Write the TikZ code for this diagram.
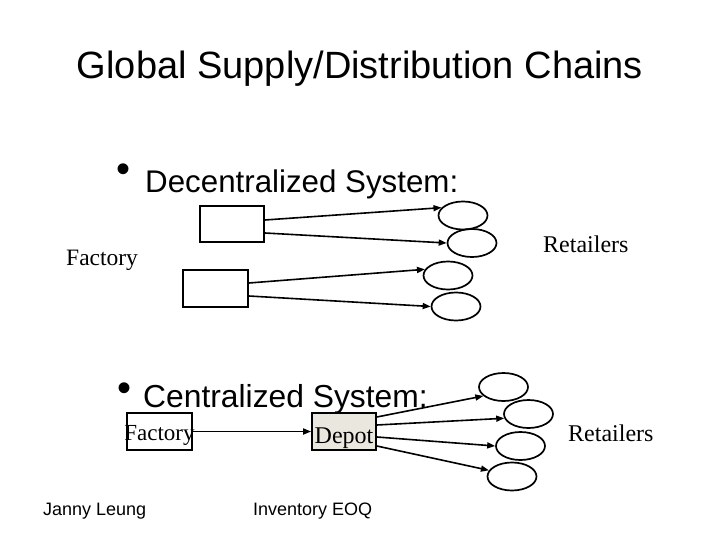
\documentclass[tikz,border=0pt]{standalone}
\usepackage{fontspec}
\setmainfont{Liberation Serif}
\setsansfont{Liberation Sans}
\usetikzlibrary{shapes.geometric,arrows.meta}
\definecolor{depotfill}{HTML}{EAE8DE}
\tikzset{
  boxnode/.style={draw=black,line width=1.7pt,rectangle,inner sep=0pt},
  retail/.style={draw=black,line width=1.7pt,ellipse,inner sep=0pt,minimum width=49pt,minimum height=28pt},
  conn/.style={line width=1.6pt,-{Triangle[length=8pt,width=6pt]}},
  sanstext/.style={font=\sffamily,inner sep=0pt},
  serftext/.style={font=\rmfamily,inner sep=0pt}
}
\begin{document}
\begin{tikzpicture}[x=1pt,y=-1pt]
\useasboundingbox (0,0) rectangle (720,540);
% title
\node[sanstext,anchor=base] (title) at (360,79) {\fontsize{38}{41}\selectfont Global Supply/Distribution Chains};
% decentralized
\node[sanstext] (bul1) at (124,173) {\fontsize{40}{42}\selectfont •};
\node[sanstext,anchor=base west] (dec) at (145,193) {\fontsize{31.3}{34}\selectfont Decentralized System:};
\node[boxnode,minimum width=64pt,minimum height=36pt] (b1) at (232,224) {};
\node[boxnode,minimum width=65pt,minimum height=37pt] (b2) at (215.5,288.5) {};
\node[retail] (e1) at (463,215.5) {};
\node[retail] (e2) at (472,243) {};
\node[retail] (e3) at (448,275.5) {};
\node[retail] (e4) at (456,306.5) {};
\draw[conn] ([yshift=4pt]b1.east) -- (e1.160);
\draw[conn] ([yshift=-9pt]b1.east) -- (e2.west);
\draw[conn] ([yshift=5.5pt]b2.east) -- (e3.165);
\draw[conn] ([yshift=-7.5pt]b2.east) -- (e4.west);
\node[serftext,anchor=base west] (fac1) at (66,265) {\fontsize{23.5}{26}\selectfont Factory};
\node[serftext,anchor=base west] (ret1) at (543,252) {\fontsize{24}{26}\selectfont Retailers};
% centralized
\node[sanstext] (bul2) at (125,392) {\fontsize{40}{42}\selectfont •};
\node[sanstext,anchor=base west] (cen) at (143,407) {\fontsize{31.8}{34}\selectfont Centralized System:};
\node[boxnode,minimum width=65pt,minimum height=37pt,inner xsep=-3pt,text height=22pt,text depth=5pt,font=\rmfamily\fontsize{23}{25}\selectfont] (fac2) at (159.5,431.5) {Factory};
\node[boxnode,fill=depotfill,minimum width=64pt,minimum height=37pt,text height=27pt,text depth=4pt,font=\rmfamily\fontsize{24}{26}\selectfont] (dep) at (344,431.5) {Depot};
\node[retail] (r1) at (503.5,387) {};
\node[retail] (r2) at (528.5,414) {};
\node[retail] (r3) at (520.5,446) {};
\node[retail] (r4) at (512,476.5) {};
\draw[conn] (fac2.east) -- (dep.west);
\draw[conn] ([yshift=14.5pt]dep.east) -- (r1.204);
\draw[conn] ([yshift=6.5pt]dep.east) -- (r2.190);
\draw[conn] ([yshift=-5.5pt]dep.east) -- (r3.west);
\draw[conn] ([yshift=-14.5pt]dep.east) -- (r4.165);
\node[serftext,anchor=base west] (ret2) at (568,441) {\fontsize{24}{26}\selectfont Retailers};
% footer
\node[sanstext,anchor=base west] (foot1) at (43,515) {\fontsize{18}{20}\selectfont Janny Leung};
\node[sanstext,anchor=base west] (foot2) at (253,515) {\fontsize{18}{20}\selectfont Inventory EOQ};
\end{tikzpicture}
\end{document}
